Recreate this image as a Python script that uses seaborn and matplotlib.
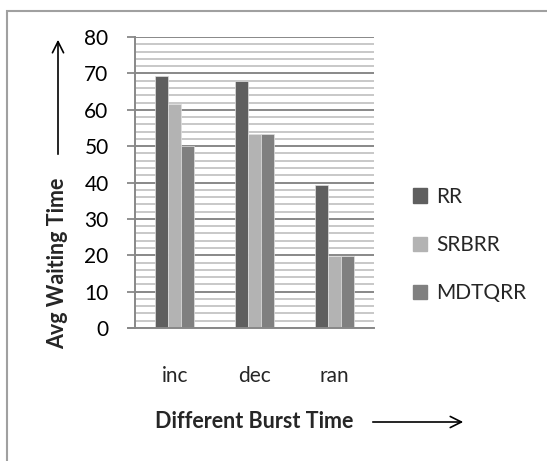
import matplotlib
matplotlib.use("Agg")
import matplotlib.pyplot as plt
import seaborn as sns
import pandas as pd
from matplotlib.patches import Rectangle, FancyArrowPatch

categories = ["inc", "dec", "ran"]
rr = [69.2, 67.8, 39.3]
srbrr = [61.5, 53.3, 19.9]
mdtqrr = [50.1, 53.3, 19.7]
series = ["RR", "SRBRR", "MDTQRR"]
colors = ["#5f5f5f", "#b3b3b3", "#808080"]
yticks = [0, 10, 20, 30, 40, 50, 60, 70, 80]

df = pd.DataFrame({
    "cat": categories * 3,
    "val": rr + srbrr + mdtqrr,
    "series": [s for s in series for _ in categories],
})

sns.set_style("white")
plt.rcParams["font.family"] = ["Lato", "DejaVu Sans"]

fig = plt.figure(figsize=(5.47, 4.61), dpi=100)
ax = fig.add_axes([0.2468, 0.2885, 0.437, 0.631])

sns.barplot(data=df, x="cat", y="val", hue="series", palette=colors,
            width=0.49, ax=ax, legend=False, edgecolor="#e0e0e0", linewidth=0.5)

FS = 15
ax.set_ylim(0, 80)
ax.set_xlim(-0.5, 2.5)
ax.set_yticks(yticks)
ax.set_yticklabels([str(t) for t in yticks], fontsize=FS, color="#000000")
ax.set_yticks(range(0, 81, 2), minor=True)
ax.set_xticklabels(categories, fontsize=FS)
ax.set_axisbelow(True)
ax.grid(which="minor", axis="y", color="#c4c4c4", linewidth=1.3)
ax.grid(which="major", axis="y", color="#888888", linewidth=1.4)
ax.tick_params(axis="y", which="major", length=6, width=1.3, color="#888888", pad=13, left=True)
ax.tick_params(axis="y", which="minor", length=0)
ax.tick_params(axis="x", length=0, pad=27)
for s in ["top", "right"]:
    ax.spines[s].set_visible(False)
ax.spines["left"].set_color("#888888")
ax.spines["left"].set_linewidth(1.4)
ax.spines["bottom"].set_color("#888888")
ax.spines["bottom"].set_linewidth(1.4)
ax.set_xlabel("")
ax.set_ylabel("")

# extend x-axis line slightly left
ax.plot([-0.59, -0.5], [0, 0], color="#888888", lw=1.4, clip_on=False,
        transform=ax.transData)

# legend
handles = [Rectangle((0, 0), 1, 1, color=c) for c in colors]
fig.legend(handles, series, loc="upper left", bbox_to_anchor=(0.72, 0.635),
           frameon=False, fontsize=FS, handlelength=0.7, handleheight=0.7,
           labelspacing=1.35, handletextpad=0.45)

# axis titles
fig.text(254 / 547, 1 - 421 / 461, "Different Burst Time", fontsize=15.5,
         fontweight="bold", ha="center", va="center")
fig.text(58 / 547, 1 - 263 / 461, "Avg Waiting Time", fontsize=15.5,
         fontweight="bold", ha="center", va="center", rotation=90)

# arrows
fig.add_artist(FancyArrowPatch((370 / 547, 1 - 422 / 461), (466 / 547, 1 - 422 / 461),
                               transform=fig.transFigure, arrowstyle="->,head_length=8,head_width=4",
                               color="black", lw=1.2, mutation_scale=1))
fig.add_artist(FancyArrowPatch((58 / 547, 1 - 157 / 461), (58 / 547, 1 - 37 / 461),
                               transform=fig.transFigure, arrowstyle="->,head_length=8,head_width=4",
                               color="black", lw=1.2, mutation_scale=1))

# outer border (left and top visible)
fig.add_artist(Rectangle((7 / 547, -0.05), 1.1, 1 - 11 / 461 + 0.05,
                         transform=fig.transFigure, fill=False,
                         edgecolor="#a0a0a0", lw=1.5))

fig.savefig("out.png", dpi=100)
